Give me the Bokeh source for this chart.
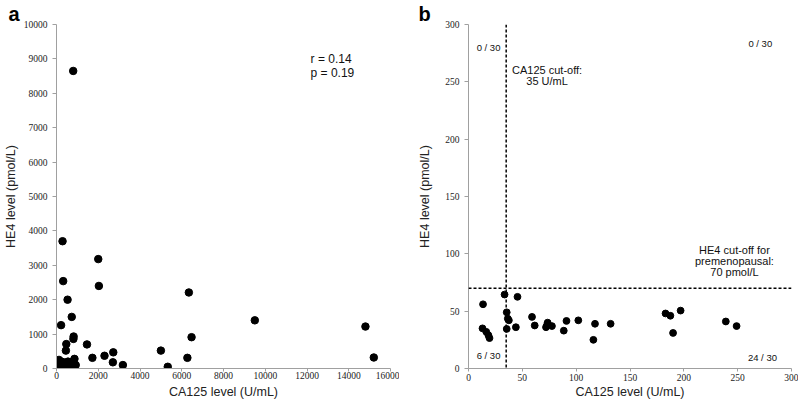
from bokeh.plotting import figure
from bokeh.layouts import row
from bokeh.models import Range1d, FixedTicker, Label, Span
from bokeh.embed import file_html
from bokeh.resources import INLINE

# ---- Panel a data: all patients ----
a_ca125 = [800, 290, 2000, 320, 2030, 6340, 530, 730, 9500, 14800, 220, 820, 810,
           6470, 470, 1460, 450, 5000, 2720, 2300, 1720, 860, 6270, 15200, 2700,
           3180, 5330, 920,
           30, 60, 80, 100, 120, 150, 180, 200, 230, 260, 300, 330, 380, 420,
           480, 550, 600, 650, 700, 750, 850, 100, 50, 200]
a_he4 = [8650, 3700, 3180, 2540, 2400, 2210, 2000, 1500, 1400, 1220, 1260, 930, 860,
         910, 710, 700, 520, 520, 470, 370, 310, 280, 310, 320, 180,
         100, 50, 100,
         40, 120, 200, 60, 250, 150, 90, 30, 200, 120, 60, 180, 100, 40,
         150, 200, 90, 140, 60, 180, 120, 10, 220, 120]

# ---- Panel b data: premenopausal subset ----
b_ca125 = [33.5, 45.5, 13.5, 35.5, 59, 36.5, 37.5, 197, 183, 187.5, 91, 102, 239,
           73.5, 73, 117.5, 132, 61.5, 77.5, 72, 44, 249, 88.5, 35.5, 13, 16.5,
           18.5, 19.5, 190, 116]
b_he4 = [64.5, 62.5, 56, 49, 45, 43.5, 42, 50.5, 48, 46, 41.5, 42, 41,
         40, 38, 39, 39, 37.5, 37, 36, 36, 37, 33, 34.5, 35, 32,
         29, 26.5, 31, 25]

a_xticks = [0, 2000, 4000, 6000, 8000, 10000, 12000, 14000, 16000]
a_yticks = [0, 1000, 2000, 3000, 4000, 5000, 6000, 7000, 8000, 9000, 10000]
b_xticks = [0, 50, 100, 150, 200, 250, 300]
b_yticks = [0, 50, 100, 150, 200, 250, 300]

ca125_cutoff = 35
he4_cutoff = 70

SANS = "Liberation Sans"
SERIF = "Liberation Serif"
AXIS_GRAY = "#a0a0a0"


def style(p, xticks, yticks, xlab_standoff, ylab_standoff, xtick_standoff,
          panel, title_offset):
    p.xgrid.visible = False
    p.ygrid.visible = False
    p.outline_line_color = None
    p.background_fill_color = "white"
    p.border_fill_color = "white"
    p.xaxis.ticker = FixedTicker(ticks=xticks)
    p.yaxis.ticker = FixedTicker(ticks=yticks)
    for ax in (p.xaxis[0], p.yaxis[0]):
        ax.axis_line_color = AXIS_GRAY
        ax.major_tick_line_color = AXIS_GRAY
        ax.minor_tick_line_color = None
        ax.major_tick_in = 0
        ax.major_label_text_font = SERIF
        ax.major_label_text_font_size = "9.5px"
        ax.major_label_text_color = "#222222"
        ax.axis_label_text_font = SANS
        ax.axis_label_text_font_size = "12.5px"
        ax.axis_label_text_font_style = "normal"
        ax.axis_label_text_color = "#222222"
    p.xaxis.major_tick_out = 3
    p.yaxis.major_tick_out = 4
    p.xaxis.major_label_standoff = xtick_standoff
    p.yaxis.major_label_standoff = 5
    p.xaxis.axis_label = "CA125 level (U/mL)"
    p.yaxis.axis_label = "HE4 level (pmol/L)"
    p.xaxis.axis_label_standoff = xlab_standoff
    p.yaxis.axis_label_standoff = ylab_standoff
    p.title.text = panel
    p.title.text_font = SANS
    p.title.text_font_size = "20px"
    p.title.text_font_style = "bold"
    p.title.text_color = "black"
    p.title.align = "left"
    p.title.standoff = 0
    p.title.offset = title_offset


def label(p, x, y, text, size, align="center"):
    p.add_layout(Label(x=x, y=y, text=text, text_font=SANS, text_font_size=size,
                       text_align=align, text_baseline="middle",
                       text_color="#111111"))


# ---------------- Panel a ----------------
pa = figure(width=399, height=408, output_backend="svg", toolbar_location=None,
            x_range=Range1d(0, 16000), y_range=Range1d(0, 10000),
            min_border_left=56, min_border_right=9, min_border_top=23,
            min_border_bottom=40)
style(pa, a_xticks, a_yticks, xlab_standoff=3, ylab_standoff=3, xtick_standoff=0,
      panel="a", title_offset=-48)
pa.scatter(a_ca125, a_he4, size=7.5, color="black")
label(pa, 12170, 8985, "r = 0.14", "12px", align="left")
label(pa, 12170, 8580, "p = 0.19", "12px", align="left")

# ---------------- Panel b ----------------
pb = figure(width=399, height=408, output_backend="svg", toolbar_location=None,
            x_range=Range1d(0, 300), y_range=Range1d(0, 300),
            min_border_left=69, min_border_right=7, min_border_top=23,
            min_border_bottom=30)
style(pb, b_xticks, b_yticks, xlab_standoff=1, ylab_standoff=10, xtick_standoff=2,
      panel="b", title_offset=-50)
pb.add_layout(Span(location=ca125_cutoff, dimension="height", line_color="black",
                   line_width=1.5, line_dash="3 2"))
pb.add_layout(Span(location=he4_cutoff, dimension="width", line_color="black",
                   line_width=1.5, line_dash="3 2"))
pb.scatter(b_ca125, b_he4, size=6.8, color="black")
label(pb, 18.6, 280, "0 / 30", "9.5px")
label(pb, 271, 283, "0 / 30", "9.5px")
label(pb, 18.6, 11, "6 / 30", "9.5px")
label(pb, 273, 9.7, "24 / 30", "9.5px")
label(pb, 73, 260, "CA125 cut-off:", "11px")
label(pb, 73, 250.5, "35 U/mL", "11px")
label(pb, 247, 103, "HE4 cut-off for", "11px")
label(pb, 247, 93.5, "premenopausal:", "11px")
label(pb, 247, 84, "70 pmol/L", "11px")

layout = row(pa, pb)
open("out.html", "w").write(file_html(layout, INLINE))
